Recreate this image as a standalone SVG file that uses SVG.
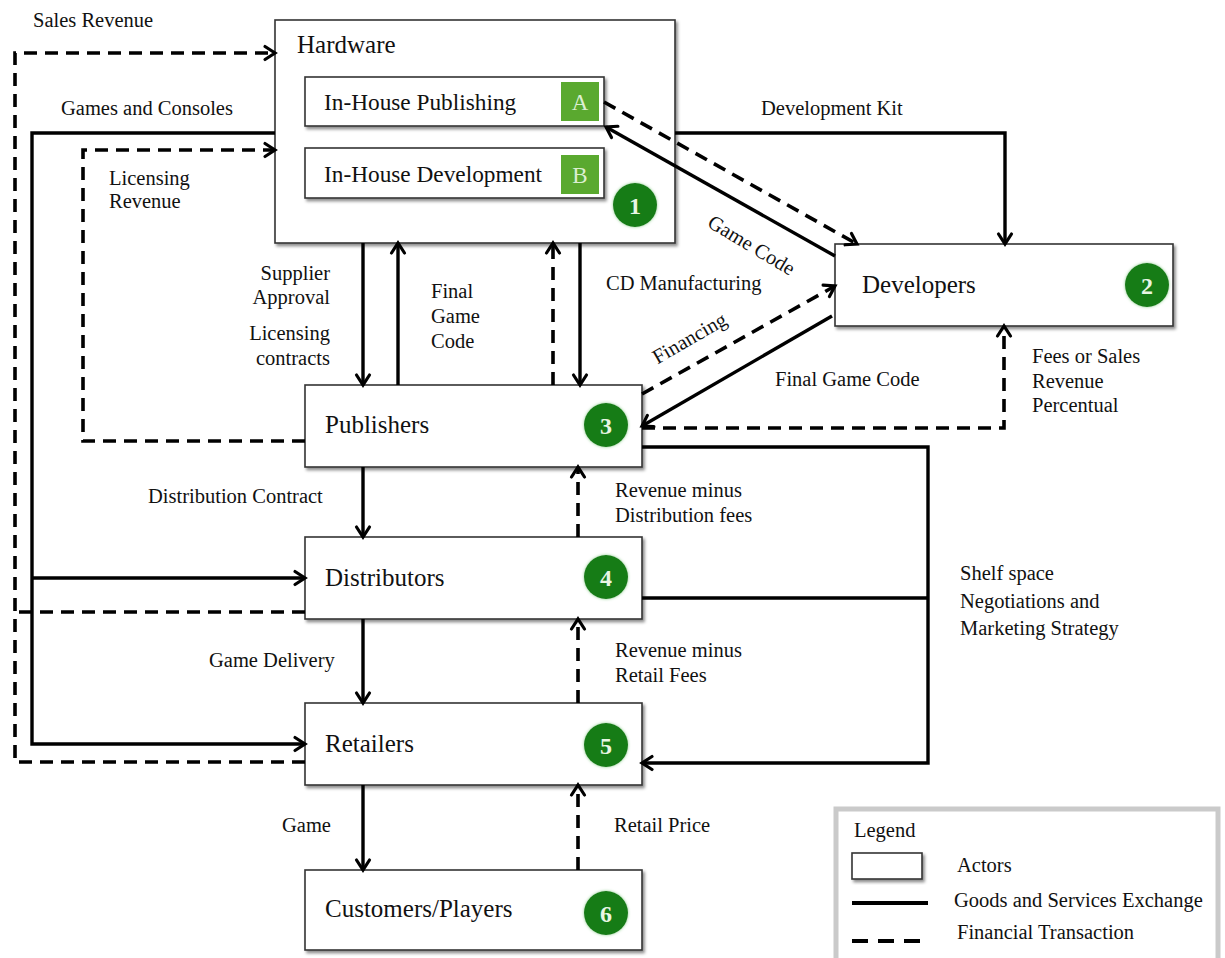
<svg xmlns="http://www.w3.org/2000/svg" width="1225" height="958" viewBox="0 0 1225 958">
<defs>
<filter id="sh" x="-5%" y="-5%" width="115%" height="125%"><feDropShadow dx="2" dy="2.5" stdDeviation="1.5" flood-color="#000" flood-opacity="0.45"/></filter>
<filter id="glow" x="-30%" y="-30%" width="160%" height="160%"><feDropShadow dx="0" dy="0" stdDeviation="1.5" flood-color="#7cc87c" flood-opacity="0.9"/></filter>
<marker id="ah" markerUnits="userSpaceOnUse" markerWidth="18" markerHeight="18" refX="13" refY="8" orient="auto" overflow="visible">
<path d="M3,1.5 L13,8 L3,14.5" fill="none" stroke="#000" stroke-width="3.2" stroke-linejoin="miter" stroke-linecap="round"/>
</marker>
<style>
text{font-family:'Liberation Serif','DejaVu Serif',serif}
.box{fill:#fff;stroke:#333;stroke-width:1.6;filter:url(#sh)}
.sol{fill:none;stroke:#000;stroke-width:3.4}
.dash{fill:none;stroke:#000;stroke-width:3.6;stroke-dasharray:13 8}
.arr{marker-end:url(#ah)}
.lbl{font-size:20.5px;fill:#111}
.nt{font-size:25px;fill:#111}
.nts{font-size:23.3px;fill:#111}
.circ{fill:#187c18;filter:url(#glow)}
.num{font-size:24px;font-weight:bold;fill:#e9f6e4;text-anchor:middle}
.sq{fill:#5aa92f}
.let{font-size:23px;fill:#dcefd2;text-anchor:middle}
</style>
</defs>
<rect width="1225" height="958" fill="#fff"/>

<g id="hardware">
<rect class="box" x="275" y="20" width="400" height="223"/>
<text class="nt" x="297" y="53">Hardware</text>
<circle class="circ" cx="635" cy="205" r="22"/>
<text class="num" x="635" y="214">1</text>
</g>
<g id="inhouse-publishing">
<rect class="box" x="305" y="77" width="299" height="49"/>
<text class="nts" x="324" y="110">In-House Publishing</text>
<rect class="sq" x="561" y="82" width="38" height="39"/>
<text class="let" x="580" y="110">A</text>
</g>
<g id="inhouse-development">
<rect class="box" x="305" y="148" width="299" height="50"/>
<text class="nts" x="324" y="182">In-House Development</text>
<rect class="sq" x="561" y="155" width="38" height="39"/>
<text class="let" x="580" y="183">B</text>
</g>
<g id="developers">
<rect class="box" x="835" y="244" width="338" height="82"/>
<text class="nt" x="862" y="293">Developers</text>
<circle class="circ" cx="1147" cy="285" r="22"/>
<text class="num" x="1147" y="294">2</text>
</g>
<g id="publishers">
<rect class="box" x="305" y="385" width="337" height="82"/>
<text class="nt" x="325" y="433">Publishers</text>
<circle class="circ" cx="606" cy="425" r="22"/>
<text class="num" x="606" y="434">3</text>
</g>
<g id="distributors">
<rect class="box" x="305" y="537" width="337" height="82"/>
<text class="nt" x="325" y="586">Distributors</text>
<circle class="circ" cx="606" cy="577" r="22"/>
<text class="num" x="606" y="586">4</text>
</g>
<g id="retailers">
<rect class="box" x="305" y="703" width="337" height="82"/>
<text class="nt" x="325" y="752">Retailers</text>
<circle class="circ" cx="606" cy="745" r="22"/>
<text class="num" x="606" y="754">5</text>
</g>
<g id="customers">
<rect class="box" x="305" y="870" width="337" height="80"/>
<text class="nt" x="325" y="917">Customers/Players</text>
<circle class="circ" cx="606" cy="913" r="22"/>
<text class="num" x="606" y="922">6</text>
</g>

<g id="connectors">
<path class="dash arr" d="M305,762 H15 V53 H275"/>
<path class="dash" d="M305,612 H15"/>
<path class="sol arr" d="M275,133 H32 V744 H305"/>
<path class="sol arr" d="M32,578 H305"/>
<path class="dash arr" d="M305,441 H83 V150 H275"/>
<path class="sol arr" d="M363,243 V385"/>
<path class="sol arr" d="M398,385 V243"/>
<path class="dash arr" d="M553,385 V243"/>
<path class="sol arr" d="M580,243 V385"/>
<path class="sol arr" d="M363,467 V537"/>
<path class="dash arr" d="M578,537 V467"/>
<path class="sol arr" d="M363,619 V703"/>
<path class="dash arr" d="M578,703 V619"/>
<path class="sol arr" d="M363,785 V870"/>
<path class="dash arr" d="M578,870 V785"/>
<path class="sol arr" d="M675,133 H1005 V244"/>
<path class="dash arr" d="M604,102 L857,244"/>
<path class="sol arr" d="M835,256 L606,127"/>
<path class="dash arr" d="M642,394 L835,286"/>
<path class="sol arr" d="M832,316 L642,426"/>
<path class="dash arr" d="M642,428 H1004 V326"/>
<path class="sol arr" d="M642,447 H928 V763 H642"/>
<path class="sol" d="M642,598 H928"/>
</g>

<g id="labels">
<text class="lbl" x="33" y="27">Sales Revenue</text>
<text class="lbl" x="61" y="115">Games and Consoles</text>
<text class="lbl" x="109" y="185">Licensing</text>
<text class="lbl" x="109" y="208">Revenue</text>
<text class="lbl" x="330" y="280" text-anchor="end">Supplier</text>
<text class="lbl" x="330" y="304" text-anchor="end">Approval</text>
<text class="lbl" x="330" y="340" text-anchor="end">Licensing</text>
<text class="lbl" x="330" y="365" text-anchor="end">contracts</text>
<text class="lbl" x="431" y="298">Final</text>
<text class="lbl" x="431" y="323">Game</text>
<text class="lbl" x="431" y="348">Code</text>
<text class="lbl" x="606" y="290">CD Manufacturing</text>
<text class="lbl" x="761" y="115">Development Kit</text>
<text class="lbl" x="748" y="251" text-anchor="middle" transform="rotate(31 748 251)">Game Code</text>
<text class="lbl" x="693" y="344" text-anchor="middle" transform="rotate(-30 693 344)">Financing</text>
<text class="lbl" x="775" y="386">Final Game Code</text>
<text class="lbl" x="1032" y="363">Fees or Sales</text>
<text class="lbl" x="1032" y="388">Revenue</text>
<text class="lbl" x="1032" y="412">Percentual</text>
<text class="lbl" x="148" y="503">Distribution Contract</text>
<text class="lbl" x="615" y="497">Revenue minus</text>
<text class="lbl" x="615" y="522">Distribution fees</text>
<text class="lbl" x="209" y="667">Game Delivery</text>
<text class="lbl" x="615" y="657">Revenue minus</text>
<text class="lbl" x="615" y="682">Retail Fees</text>
<text class="lbl" x="282" y="832">Game</text>
<text class="lbl" x="614" y="832">Retail Price</text>
<text class="lbl" x="960" y="580">Shelf space</text>
<text class="lbl" x="960" y="608">Negotiations and</text>
<text class="lbl" x="960" y="635">Marketing Strategy</text>
</g>

<g id="legend">
<rect x="836" y="809" width="382" height="160" fill="#fff" stroke="#cacaca" stroke-width="5"/>
<text class="lbl" x="854" y="837">Legend</text>
<rect class="box" x="852" y="853" width="70" height="26"/>
<text class="lbl" x="957" y="872">Actors</text>
<line x1="852" y1="903" x2="928" y2="903" stroke="#000" stroke-width="4"/>
<text class="lbl" x="954" y="907">Goods and Services Exchange</text>
<line x1="852" y1="941" x2="920" y2="941" stroke="#000" stroke-width="4" stroke-dasharray="16 10"/>
<text class="lbl" x="957" y="939">Financial Transaction</text>
</g>
</svg>
